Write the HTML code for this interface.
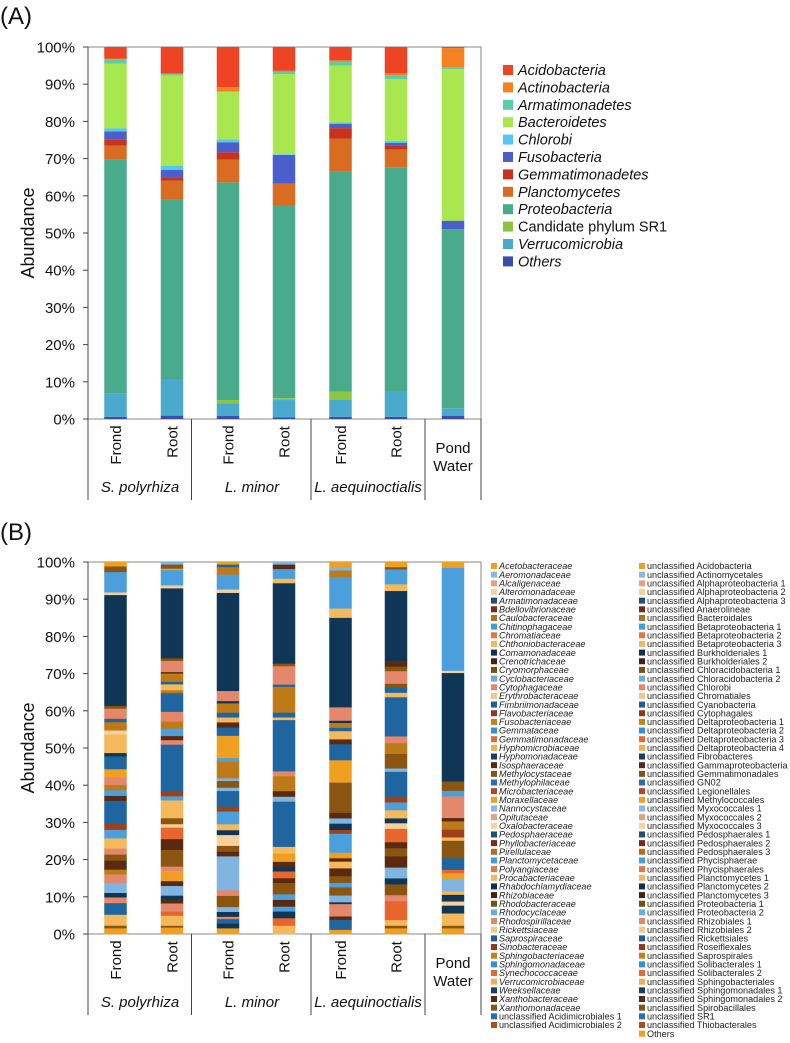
<!DOCTYPE html>
<html><head><meta charset="utf-8"><style>
body{margin:0;background:#fff;}
svg{display:block;font-family:"Liberation Sans",Arial,sans-serif;}
</style></head><body>
<svg id="svg" width="790" height="1043" viewBox="0 0 790 1043">
<text x="0" y="24" font-size="24" fill="#111">(A)</text>
<text x="0" y="540" font-size="24" fill="#111">(B)</text>
</svg>
<script>
// ---------- Panel A data ----------
const phylaA = ["Acidobacteria","Actinobacteria","Armatimonadetes","Bacteroidetes","Chlorobi","Fusobacteria","Gemmatimonadetes","Planctomycetes","Proteobacteria","Candidate phylum SR1","Verrucomicrobia","Others"];
const samples = ["Frond","Root","Frond","Root","Frond","Root","Pond Water"];
const aBar1 = [3.1,0.3,1.1,17.4,0.8,2.2,1.6,3.8,62.8,0,6.3,0.6];
const aBar2 = [7.1,0.2,0.4,24.2,1.1,2.2,0.7,5.2,48.4,0,9.6,0.9];
const aBar3 = [10.8,1.1,0.2,12.7,0.8,2.7,2.0,6.1,58.5,0.9,3.4,0.8];
const aBar4 = [6.4,0.3,0.6,21.5,0.2,7.6,0.2,5.8,51.8,0.5,4.7,0.4];
const aBar5 = [3.6,0.3,1.1,15.3,0.4,1.1,2.8,8.9,59.1,2.1,4.7,0.6];
const aBar6 = [7.0,0.7,0.9,16.6,0.6,0.7,1.1,4.7,60.3,0,6.8,0.6];
const aBar7 = [0.3,5.3,0.3,40.8,0,2.3,0,0,48.1,0,2.0,0.9];
const yTicks = ["0%","10%","20%","30%","40%","50%","60%","70%","80%","90%","100%"];

// ---------- Panel B data (segments top to bottom: colour code, percent) ----------
const bCodes1 = ["O","BR","LB","W","N","BR","S","MB","OC","W","LO","N","MB","O","S","OC","LB","DB","MB","R","LB","LO","S","BR","DB","OC","S","PB","N","S","MB","LO","BR","O"];
const bVals1  = [1.2,1.5,5.4,0.7,29.5,0.7,2.7,0.9,2.2,1.1,4.9,0.9,3.4,2.2,2,1.4,1.5,1.3,6.1,1.6,2.3,2.7,1.6,1.6,2.4,1.3,2.2,2.7,1.2,1.5,3.1,2.9,0.7,1.5];
const bCodes2 = ["PB","BR","O","LB","W","N","BR","S","DB","OC","MB","LO","OC","MB","S","OC","LB","DB","S","MB","R","LB","LO","BR","W","OR","DB","BR","S","O","DB","PB","N","DB","S","OR","LO","BR","O"];
const bVals2  = [0.7,1.1,0.4,4.1,0.8,18.8,0.7,3,0.4,2.2,0.7,1.6,0.8,5,2.6,1.9,2,1.1,1.2,12.7,1.2,1.1,4.8,1.6,0.9,3.1,2.9,4.5,1.2,2.7,1.3,2.6,1.2,0.9,2.2,1.1,2.7,0.5,1.7];
const bCodes3 = ["O","MB","OC","LB","W","N","S","N","OC","MB","LO","DB","MB","O","LB","OC","PB","BR","PB","MB","R","LB","LO","N","W","BR","DB","PB","S","BR","PB","N","S","MB","N","O"];
const bVals3  = [0.7,0.7,2,4,0.9,26.3,2.7,0.6,2.5,1.3,1.3,1.4,2.2,6,0.9,4.5,0.7,1.8,0.9,4.2,1.3,3.4,1.6,1.3,2.9,1.6,1.2,9.1,1.5,3,1.3,1.3,0.6,1.2,1.3,1.5];
const bCodes4 = ["PB","DB","LB","LO","N","BR","S","MB","OC","MB","LO","MB","S","OC","DB","PB","MB","LO","O","DB","N","OR","DB","BR","LB","DB","LB","N","OR","LO"];
const bVals4  = [0.7,1.2,2.6,1.2,21.5,0.7,4.9,0.6,6.9,1.3,0.7,13.7,1.3,4,1.5,1.3,12.1,1.8,2.2,1.3,1.3,1.8,1.3,3,1.5,1.8,1.3,1.8,2,2.2];
const bCodes5 = ["O","PB","OC","LB","LO","N","S","N","OC","MB","LO","DB","MB","O","BR","DB","PB","N","R","LB","O","DB","LO","DB","BR","LB","BR","PB","N","S","DB","MB","O"];
const bVals5  = [1.6,0.7,1.8,8.4,2.5,24,3.6,0.6,1.3,0.9,2.2,1.3,4.3,6,8.1,1.5,1.4,1.7,1,5.1,1.5,0.9,1.8,2.1,1.8,1.2,2.2,1.8,0.5,3.3,0.9,2.7,1.1];
const bCodes6 = ["O","BR","LB","LO","N","DB","BR","S","BR","MB","LO","MB","S","OC","BR","PB","MB","R","LB","LO","N","W","OR","DB","BR","DB","PB","N","BR","S","OR","LO","BR","O"];
const bVals6  = [1.4,0.6,4,1.8,18.8,1.5,1.2,3.4,0.9,1.5,1.2,10.5,1.8,2.9,3.9,0.9,6.7,1.5,2.1,2.2,1.3,1.5,3.6,1.6,2.2,3,2.9,1.6,2.9,1.6,5.1,1.5,0.7,1.5];
const bCodes7 = ["O","LB","W","N","BR","LB","S","DB","OC","R","LO","BR","MB","OR","O","PB","LO","N","W","N","LO","BR","O"];
const bVals7  = [1.6,27.6,0.6,29.1,2.5,1.5,5.8,0.9,2.2,2.1,0.9,4.7,3.1,0.9,1.5,3.4,0.9,1.8,1.1,2.1,3.3,0.7,1.5];
const familiesCol1 = ["Acetobacteraceae","Aeromonadaceae","Alcaligenaceae","Alteromonadaceae","Armatimonadaceae","Bdellovibrionaceae","Caulobacteraceae","Chitinophagaceae","Chromatiaceae","Chthoniobacteraceae","Comamonadaceae","Crenotrichaceae","Cryomorphaceae","Cyclobacteriaceae","Cytophagaceae","Erythrobacteraceae","Fimbriimonadaceae","Flavobacteriaceae","Fusobacteriaceae","Gemmataceae","Gemmatimonadaceae","Hyphomicrobiaceae","Hyphomonadaceae","Isosphaeraceae","Methylocystaceae","Methylophilaceae","Microbacteriaceae","Moraxellaceae","Nannocystaceae","Opitutaceae","Oxalobacteraceae","Pedosphaeraceae","Phyllobacteriaceae","Pirellulaceae","Planctomycetaceae","Polyangiaceae","Procabacteriaceae","Rhabdochlamydiaceae","Rhizobiaceae","Rhodobacteraceae","Rhodocyclaceae","Rhodospirillaceae","Rickettsiaceae","Saprospiraceae","Sinobacteraceae","Sphingobacteriaceae","Sphingomonadaceae","Synechococcaceae","Verrucomicrobiaceae","Weeksellaceae","Xanthobacteraceae","Xanthomonadaceae","unclassified Acidimicrobiales 1","unclassified Acidimicrobiales 2"];
const familiesCol2 = ["unclassified Acidobacteria","unclassified Actinomycetales","unclassified Alphaproteobacteria 1","unclassified Alphaproteobacteria 2","unclassified Alphaproteobacteria 3","unclassified Anaerolineae","unclassified Bacteroidales","unclassified Betaproteobacteria 1","unclassified Betaproteobacteria 2","unclassified Betaproteobacteria 3","unclassified Burkholderiales 1","unclassified Burkholderiales 2","unclassified Chloracidobacteria 1","unclassified Chloracidobacteria 2","unclassified Chlorobi","unclassified Chromatiales","unclassified Cyanobacteria","unclassified Cytophagales","unclassified Deltaproteobacteria 1","unclassified Deltaproteobacteria 2","unclassified Deltaproteobacteria 3","unclassified Deltaproteobacteria 4","unclassified Fibrobacteres","unclassified Gammaproteobacteria","unclassified Gemmatimonadales","unclassified GN02","unclassified Legionellales","unclassified Methylococcales","unclassified Myxococcales 1","unclassified Myxococcales 2","unclassified Myxococcales 3","unclassified Pedosphaerales 1","unclassified Pedosphaerales 2","unclassified Pedosphaerales 3","unclassified Phycisphaerae","unclassified Phycisphaerales","unclassified Planctomycetes 1","unclassified Planctomycetes 2","unclassified Planctomycetes 3","unclassified Proteobacteria 1","unclassified Proteobacteria 2","unclassified Rhizobiales 1","unclassified Rhizobiales 2","unclassified Rickettsiales","unclassified Roseiflexales","unclassified Saprospirales","unclassified Solibacterales 1","unclassified Solibacterales 2","unclassified Sphingobacteriales","unclassified Sphingomonadales 1","unclassified Sphingomonadales 2","unclassified Spirobacillales","unclassified SR1","unclassified Thiobacterales","Others"];

const colA = ["#ee4424","#f5821f","#5ccea6","#a8e84e","#55c8f0","#4a5fcc","#c8321e","#d86c22","#4aaa8c","#8cc63f","#4aa9cc","#3a4ea8"];
const codeColor = {O:"#f0a020",LB:"#4a9fdc",W:"#f5d09a",N:"#0f3557",BR:"#8a5510",S:"#e5876a",OC:"#bf7a18",MB:"#1f66a0",LO:"#f5b85a",DB:"#5a2a10",PB:"#7fb5e0",R:"#a0401a",OR:"#e8662e"};
const legPal = ["#f0a020","#8ab8e0","#e5a080","#f5d39e","#1f4f78","#7a2a18","#b07020","#3ea0e0","#e07848","#f0b860","#102e50","#4a2010","#7a5010","#6aaee0","#e08a6a","#f0c888","#1f5f98","#903820","#c88018","#3090d8","#e06a38","#f0b050","#183e68","#5a2818","#80561a","#2a70b0","#b04a20"];

const NS = "http://www.w3.org/2000/svg";
const svg = document.getElementById("svg");
function mk(tag, attrs, parent){const e=document.createElementNS(NS,tag);for(const k in attrs)e.setAttribute(k,attrs[k]);(parent||svg).appendChild(e);return e;}

const L=88, R=481;
const barCx=[115.5,172,228,284,340.5,396,453];
const barW=22.5;

function drawAxes(top,bottom,prefix){
  const g=mk("g",{});
  
  
  const yS=v=>bottom-(bottom-top)*v/100;
  mk("rect",{x:L,y:top,width:R-L,height:bottom-top,fill:"none",stroke:"#888","stroke-width":1},g);
  mk("line",{x1:L,y1:top,x2:L,y2:bottom,stroke:"#444","stroke-width":1},g);
  yTicks.forEach((t,i)=>{
    const y=yS(i*10);
    mk("line",{x1:L-5,y1:y,x2:L,y2:y,stroke:"#444"},g);
    const tx=mk("text",{x:75,y:y+5.5,"text-anchor":"end","font-size":15,fill:"#111"},g);
    tx.textContent=t;
    
    
  });
  const yt=mk("text",{x:0,y:0,"font-size":18,fill:"#111","text-anchor":"middle",transform:`translate(34,${(top+bottom)/2}) rotate(-90)`},g);
  yt.textContent="Abundance";
  
  
  [88,191.5,311,425,481].forEach(x=>mk("line",{x1:x,y1:bottom,x2:x,y2:bottom+81,stroke:"#444"},g));
  samples.slice(0,6).forEach((s,i)=>{
    const t=mk("text",{x:0,y:0,"font-size":15,fill:"#111","text-anchor":"middle",transform:`translate(${barCx[i]+5.5},${bottom+(s==="Frond"?26:23)}) rotate(-90)`},g);
    t.textContent=s;
    
    
  });
  const p1=mk("text",{x:453,y:bottom+34,"font-size":15,fill:"#111","text-anchor":"middle"},g);p1.textContent="Pond";
  const p2=mk("text",{x:453,y:bottom+52,"font-size":15,fill:"#111","text-anchor":"middle"},g);p2.textContent="Water";
  
  
  
  
  [["S. polyrhiza",140],["L. minor",252],["L. aequinoctialis",368]].forEach(([n,x])=>{
    const t=mk("text",{x:x,y:bottom+73,"font-size":15,"font-style":"italic",fill:"#111","text-anchor":"middle"},g);
    t.textContent=n;
    
    
  });
  return yS;
}

const topA=47,botA=419;
const ySA=drawAxes(topA,botA,"panel-a");
[aBar1,aBar2,aBar3,aBar4,aBar5,aBar6,aBar7].forEach((vals,bi)=>{
  const tot=vals.reduce((a,b)=>a+b,0);
  let cum=0;
  for(let k=vals.length-1;k>=0;k--){
    const v=vals[k]/tot*100; if(v<=0)continue;
    const y1=ySA(cum), y2=ySA(cum+v);
    const r=mk("rect",{x:barCx[bi]-barW/2,y:y2,width:barW,height:y1-y2,fill:colA[k]});
    
    
    cum+=v;
  }
});
phylaA.forEach((p,i)=>{
  const y=70+i*17.4;
  const s=mk("rect",{x:503,y:y-5,width:10,height:10,fill:colA[i]});
  
  
  const t=mk("text",{x:518,y:y+5,"font-size":14.5,fill:"#111","font-style":p==="Candidate phylum SR1"?"normal":"italic"});
  t.textContent=p;
  
  
});

const topB=562,botB=934;
const ySB=drawAxes(topB,botB,"panel-b");
[[bCodes1,bVals1],[bCodes2,bVals2],[bCodes3,bVals3],[bCodes4,bVals4],[bCodes5,bVals5],[bCodes6,bVals6],[bCodes7,bVals7]].forEach(([codes,vals],bi)=>{
  const tot=vals.reduce((a,b)=>a+b,0);
  let cum=100;
  vals.forEach((raw,k)=>{
    const v=raw/tot*100;
    const y1=ySB(cum), y2=ySB(cum-v);
    const r=mk("rect",{x:barCx[bi]-barW/2,y:y1,width:barW,height:y2-y1+0.3,fill:codeColor[codes[k]]});
    
    
    cum-=v;
  });
});
function legendCol(list,xs,startIdx){
  list.forEach((n,i)=>{
    const y=566+i*8.66;
    const s=mk("rect",{x:xs,y:y-3,width:6,height:6,fill:legPal[(startIdx+i)%legPal.length]});
    
    
    const it=!n.startsWith("unclassified")&&n!=="Others";
    const t=mk("text",{x:xs+8,y:y+3.2,"font-size":9.1,fill:"#222","font-style":it?"italic":"normal"});
    t.textContent=n;
    
    
  });
}
legendCol(familiesCol1,491,0);
legendCol(familiesCol2,639,0);
</script>
</body></html>
